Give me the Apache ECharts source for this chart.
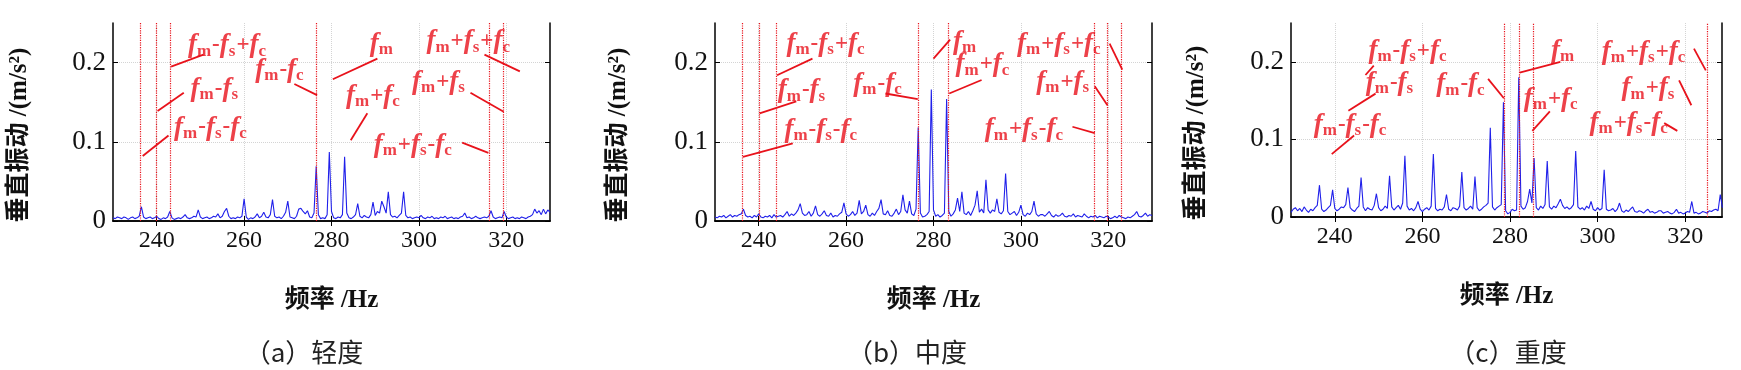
<!DOCTYPE html>
<html><head><meta charset="utf-8">
<script src="https://cdn.jsdelivr.net/npm/echarts@6/dist/echarts.min.js"></script>
<style>html,body{margin:0;padding:0;background:#fff}#c{width:1741px;height:370px}</style>
</head><body><div id="c"></div>
<script>
// ---------------- DATA ----------------
// spectrum bins: 230 Hz upward, 0.5 Hz per bin
const FREQ_START = 230;
const FREQ_STEP = 0.5;
// (a) 轻度  230 … 330 Hz
const ampA = [
0.004,0.003,0.005,0.004,0.003,0.005,0.004,0.002,0.004,0.005,
0.003,0.004,0.006,0.018,0.005,0.003,0.004,0.005,0.003,0.004,
0.006,0.003,0.002,0.004,0.003,0.005,0.012,0.004,0.002,0.003,
0.004,0.003,0.005,0.008,0.004,0.003,0.004,0.006,0.005,0.014,
0.005,0.003,0.004,0.005,0.003,0.004,0.006,0.005,0.009,0.004,
0.006,0.012,0.016,0.006,0.003,0.004,0.003,0.005,0.004,0.006,
0.028,0.005,0.002,0.004,0.003,0.005,0.009,0.004,0.006,0.011,
0.005,0.004,0.008,0.027,0.006,0.004,0.005,0.003,0.006,0.011,
0.025,0.005,0.004,0.003,0.006,0.015,0.016,0.012,0.009,0.013,
0.005,0.004,0.010,0.069,0.008,0.003,0.004,0.003,0.008,0.087,
0.012,0.004,0.003,0.005,0.004,0.008,0.081,0.010,0.004,0.003,
0.005,0.008,0.022,0.006,0.004,0.007,0.005,0.004,0.008,0.024,
0.007,0.012,0.010,0.025,0.018,0.010,0.037,0.008,0.005,0.006,
0.004,0.007,0.010,0.037,0.007,0.004,0.005,0.003,0.004,0.005,
0.004,0.007,0.004,0.003,0.005,0.004,0.006,0.003,0.004,0.003,
0.005,0.004,0.006,0.003,0.004,0.005,0.003,0.004,0.003,0.005,
0.006,0.010,0.004,0.005,0.003,0.004,0.006,0.004,0.003,0.004,
0.005,0.004,0.006,0.013,0.005,0.003,0.004,0.005,0.004,0.012,
0.005,0.003,0.004,0.005,0.003,0.004,0.003,0.005,0.004,0.003,
0.005,0.006,0.008,0.015,0.010,0.013,0.008,0.015,0.009,0.014,
0.011];
// (b) 中度  230 … 330 Hz
const ampB = [
0.005,0.004,0.006,0.005,0.007,0.004,0.006,0.008,0.005,0.007,
0.006,0.008,0.009,0.015,0.007,0.005,0.006,0.004,0.007,0.005,
0.009,0.005,0.004,0.006,0.005,0.007,0.004,0.008,0.005,0.006,
0.007,0.005,0.008,0.012,0.006,0.009,0.007,0.010,0.014,0.022,
0.010,0.007,0.008,0.012,0.006,0.010,0.019,0.008,0.006,0.009,
0.013,0.007,0.006,0.010,0.005,0.007,0.006,0.009,0.011,0.023,
0.009,0.006,0.008,0.012,0.007,0.010,0.026,0.009,0.012,0.020,
0.008,0.006,0.010,0.007,0.012,0.016,0.027,0.009,0.008,0.013,
0.007,0.006,0.010,0.015,0.008,0.012,0.033,0.014,0.010,0.025,
0.009,0.007,0.015,0.118,0.010,0.005,0.006,0.008,0.012,0.166,
0.014,0.006,0.008,0.005,0.007,0.010,0.154,0.012,0.006,0.009,
0.014,0.029,0.012,0.037,0.010,0.008,0.012,0.007,0.013,0.020,
0.038,0.011,0.015,0.010,0.052,0.014,0.010,0.014,0.012,0.028,
0.011,0.009,0.013,0.060,0.012,0.008,0.010,0.012,0.007,0.011,
0.020,0.008,0.006,0.010,0.008,0.012,0.025,0.009,0.006,0.008,
0.008,0.006,0.009,0.012,0.007,0.005,0.008,0.006,0.007,0.010,
0.006,0.005,0.007,0.006,0.009,0.005,0.007,0.006,0.005,0.009,
0.006,0.004,0.006,0.005,0.007,0.004,0.006,0.005,0.004,0.006,
0.005,0.003,0.004,0.006,0.004,0.007,0.005,0.004,0.003,0.005,
0.004,0.006,0.008,0.012,0.006,0.005,0.007,0.010,0.006,0.008,
0.007];
// (c) 重度  230 … 328.5 Hz
const ampC = [
0.006,0.010,0.012,0.008,0.011,0.007,0.013,0.009,0.006,0.010,
0.008,0.012,0.015,0.041,0.010,0.007,0.009,0.012,0.015,0.035,
0.011,0.008,0.010,0.013,0.012,0.016,0.038,0.012,0.009,0.007,
0.011,0.014,0.051,0.013,0.008,0.012,0.010,0.009,0.015,0.030,
0.012,0.008,0.010,0.014,0.011,0.053,0.013,0.009,0.012,0.015,
0.010,0.018,0.079,0.014,0.009,0.011,0.008,0.012,0.020,0.010,
0.007,0.010,0.012,0.009,0.014,0.081,0.011,0.008,0.010,0.009,
0.013,0.029,0.010,0.008,0.012,0.011,0.009,0.014,0.058,0.012,
0.009,0.011,0.014,0.010,0.052,0.012,0.008,0.010,0.013,0.015,
0.018,0.115,0.013,0.009,0.012,0.014,0.016,0.148,0.008,0.004,
0.006,0.010,0.008,0.009,0.180,0.014,0.010,0.012,0.020,0.036,
0.018,0.076,0.012,0.009,0.014,0.011,0.016,0.072,0.013,0.010,
0.014,0.012,0.017,0.023,0.015,0.011,0.013,0.010,0.012,0.016,
0.085,0.013,0.010,0.012,0.009,0.014,0.011,0.020,0.010,0.008,
0.012,0.009,0.011,0.061,0.010,0.008,0.009,0.011,0.007,0.010,
0.018,0.008,0.006,0.009,0.007,0.010,0.013,0.007,0.006,0.008,
0.007,0.005,0.008,0.010,0.006,0.007,0.005,0.006,0.008,0.008,
0.005,0.006,0.007,0.005,0.004,0.006,0.010,0.005,0.006,0.004,
0.005,0.007,0.006,0.020,0.005,0.006,0.004,0.005,0.007,0.006,
0.005,0.008,0.007,0.009,0.010,0.008,0.029,0.012];

const xTicks = [240, 260, 280, 300, 320];
const yTicks = [0, 0.1, 0.2];
const xMax = [330, 330, 328.4];
const yMax = 0.25;

// characteristic-frequency marker lines (Hz)
const markA = [236.3, 239.8, 243.2, 276.5, 316.1, 319.4];
const markB = [236.2, 240.1, 244.0, 276.4, 283.3, 316.7, 319.8, 323.0];
const markC = [278.8, 282.0, 285.2, 325.1];

const labelNames = ['fm-fs+fc','fm-fs','fm-fs-fc','fm-fc','fm','fm+fc','fm+fs+fc','fm+fs','fm+fs-fc'];
// label anchor points [Hz, m/s²]
const labelPosA = [[256.2,0.222],[253.3,0.167],[252.4,0.118],[268.2,0.191],[291.5,0.224],[289.6,0.158],[311.4,0.227],[304.6,0.176],[298.7,0.096]];
const labelPosB = [[255.4,0.224],[249.9,0.165],[254.3,0.115],[267.3,0.173],[287.2,0.226],[291.3,0.198],[308.8,0.224],[309.7,0.176],[300.8,0.116]];
const labelPosC = [[256.7,0.214],[252.6,0.173],[243.6,0.119],[268.8,0.171],[292.1,0.214],[289.4,0.152],[310.6,0.213],[311.6,0.166],[307.2,0.121]];
// pointer segments [[Hz,val],[Hz,val]]
const pointerA = [[[250.7,0.210],[243.3,0.195]],[[246.2,0.162],[240.2,0.139]],[[242.7,0.108],[236.8,0.082]],[[271.5,0.173],[276.7,0.159]],[[290.5,0.205],[280.3,0.179]],[[288.2,0.136],[284.4,0.102]],[[315.0,0.210],[323.1,0.189]],[[311.8,0.162],[319.4,0.138]],[[309.9,0.099],[315.9,0.086]]];
const pointerB = [[[252.3,0.205],[244.2,0.184]],[[248.6,0.151],[240.2,0.136]],[[247.8,0.098],[236.4,0.081]],[[269.0,0.161],[276.4,0.154]],[[283.8,0.229],[280.0,0.205]],[[291.0,0.178],[283.6,0.161]],[[320.3,0.224],[323.2,0.191]],[[316.9,0.170],[319.8,0.146]],[[311.8,0.119],[316.9,0.111]]];
const pointerC = [[[248.9,0.195],[247.0,0.183]],[[249.3,0.159],[243.1,0.137]],[[244.4,0.105],[239.3,0.081]],[[275.0,0.178],[278.6,0.153]],[[291.5,0.200],[282.2,0.186]],[[289.1,0.136],[285.1,0.111]],[[322.0,0.217],[324.7,0.189]],[[318.6,0.176],[321.4,0.144]],[[315.2,0.121],[318.2,0.111]]];

const captions = ['（a）轻度', '（b）中度', '（c）重度'];
const xName = '频率 /Hz';
const yName = '垂直振动 /(m/s²)';

// ---------------- CHART ----------------
const RED = '#e8121b', BLUE = '#2020ea';
const grids = [
  {left: 113, top: 23, width: 437, height: 198},
  {left: 715, top: 23, width: 437, height: 198},
  {left: 1291, top: 23, width: 431, height: 194}
];
const yNameGap = [81, 84, 82];
const captionX = [304, 907, 1508];
const amps = [ampA, ampB, ampC];
const marks = [markA, markB, markC];
const labelPos = [labelPosA, labelPosB, labelPosC];
const pointers = [pointerA, pointerB, pointerC];

const serif = '"Liberation Serif","Times New Roman","Noto Sans CJK SC",serif';
const rich = {
  f: {fontFamily: serif, fontStyle: 'italic', fontWeight: 'bold', fontSize: 27, color: RED, lineHeight: 29},
  s: {fontFamily: serif, fontWeight: 'bold', fontSize: 17, color: RED, verticalAlign: 'bottom', lineHeight: 15, padding: [0, 1, 0, 0]},
  o: {fontFamily: serif, fontWeight: 'bold', fontSize: 23, color: RED, lineHeight: 29}
};
function toRich(name) {
  return name.replace(/f([msc])/g, '{f|f}{s|$1}').replace(/([+\-])/g, '{o|$1}');
}

const xAxis = [], yAxis = [], series = [];
grids.forEach((g, i) => {
  const common = {type: 'value', gridIndex: i, min: FREQ_START, max: xMax[i]};
  xAxis.push(Object.assign({}, common, {
    position: 'bottom',
    name: xName, nameLocation: 'middle', nameGap: 67,
    nameTextStyle: {fontFamily: serif, fontSize: 25, fontWeight: 'bold', color: '#111'},
    axisLine: {show: true, lineStyle: {color: '#000', width: 1.5}},
    axisTick: {show: true, inside: true, length: 5, customValues: xTicks, lineStyle: {color: '#000'}},
    axisLabel: {show: true, margin: 8, customValues: xTicks, fontFamily: serif, fontSize: 24, color: '#111'},
    splitLine: {show: true, lineStyle: {color: '#d4d4d4', type: 'dotted', width: 1}}
  }));
  xAxis.push(Object.assign({}, common, {
    position: 'top',
    axisLine: {show: true, lineStyle: {color: '#000', width: 1.5}},
    axisTick: {show: true, inside: true, length: 5, customValues: xTicks, lineStyle: {color: '#000'}},
    axisLabel: {show: false}, splitLine: {show: false}
  }));
  const ycommon = {type: 'value', gridIndex: i, min: 0, max: yMax};
  yAxis.push(Object.assign({}, ycommon, {
    position: 'left',
    name: yName, nameLocation: 'middle', nameGap: yNameGap[i], nameRotate: 90,
    nameTextStyle: {fontFamily: serif, fontSize: 25, fontWeight: 'bold', color: '#111', padding: [0, 26, 0, 0]},
    axisLine: {show: true, lineStyle: {color: '#000', width: 1.5}},
    axisTick: {show: true, inside: true, length: 5, customValues: yTicks, lineStyle: {color: '#000'}},
    axisLabel: {show: true, margin: 7, customValues: yTicks, fontFamily: serif, fontSize: 27, color: '#111'},
    splitLine: {show: true, lineStyle: {color: '#d4d4d4', type: 'dotted', width: 1}}
  }));
  yAxis.push(Object.assign({}, ycommon, {
    position: 'right',
    axisLine: {show: true, lineStyle: {color: '#000', width: 1.5}},
    axisTick: {show: true, inside: true, length: 5, customValues: yTicks, lineStyle: {color: '#000'}},
    axisLabel: {show: false}, splitLine: {show: false}
  }));

  series.push({
    type: 'line', xAxisIndex: 2 * i, yAxisIndex: 2 * i,
    data: amps[i].map((v, k) => [FREQ_START + k * FREQ_STEP, v]),
    showSymbol: false, symbol: 'none', smooth: false,
    lineStyle: {color: BLUE, width: 1.1}, z: 3,
    markLine: {
      silent: true, symbol: ['none', 'none'], label: {show: false},
      lineStyle: {color: RED, type: 'dotted', width: 1.2},
      data: marks[i].map(v => ({xAxis: v}))
    }
  });
  series.push({
    type: 'scatter', xAxisIndex: 2 * i, yAxisIndex: 2 * i,
    symbolSize: 1, itemStyle: {color: 'rgba(0,0,0,0)'}, z: 5,
    data: labelNames.map((n, k) => ({name: n, value: labelPos[i][k]})),
    label: {show: true, position: 'inside', formatter: p => toRich(p.name), rich: rich},
    markLine: {
      silent: true, symbol: ['none', 'none'], label: {show: false},
      lineStyle: {color: RED, type: 'solid', width: 1.8},
      data: pointers[i].map(s => [{coord: s[0]}, {coord: s[1]}])
    }
  });
});

const chart = echarts.init(document.getElementById('c'), null, {renderer: 'canvas'});
chart.setOption({
  animation: false,
  backgroundColor: '#fff',
  grid: grids,
  xAxis: xAxis,
  yAxis: yAxis,
  series: series,
  graphic: captions.map((t, i) => ({
    type: 'text', x: captionX[i], y: 352,
    style: {text: t, fontFamily: '"Noto Sans CJK SC",sans-serif', fontSize: 26, fill: '#222', textAlign: 'center', textVerticalAlign: 'middle'}
  }))
});
</script></body></html>
